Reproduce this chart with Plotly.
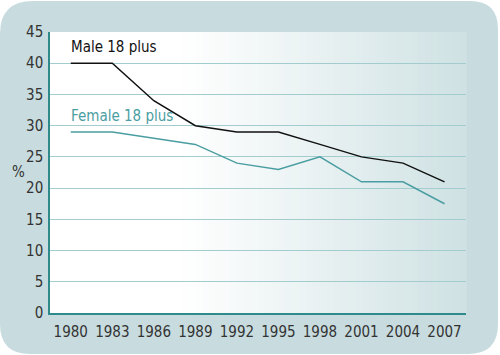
import plotly.graph_objects as go

years = [1980, 1983, 1986, 1989, 1992, 1995, 1998, 2001, 2004, 2007]
male = [40, 40, 34, 30, 29, 29, 27, 25, 24, 21]
female = [29, 29, 28, 27, 24, 23, 25, 21, 21, 17.5]
yticks = [0, 5, 10, 15, 20, 25, 30, 35, 40, 45]

W, H = 500, 355
L, R, T, B = 50, 34, 32, 42
pw, ph = W - L - R, H - T - B

FONT = "Liberation Sans Narrow, DejaVu Sans Condensed, sans-serif"

def px(x):
    return (x - L) / pw

def py(y):
    return (H - B - y) / ph

fig = go.Figure()
fig.add_trace(go.Scatter(x=years, y=male, mode="lines",
                         line=dict(color="#111111", width=1.5), showlegend=False))
fig.add_trace(go.Scatter(x=years, y=female, mode="lines",
                         line=dict(color="#4a9ea1", width=1.5), showlegend=False))

shapes = []
# outer rounded background
x0, x1, y0, y1 = 0, 498, 1, 354
rtl, rtr, rbl, rbr = 33, 28, 30, 30
path = (f"M {px(x0)},{py(y0 + rtl)} Q {px(x0)},{py(y0)} {px(x0 + rtl)},{py(y0)} "
        f"L {px(x1 - rtr)},{py(y0)} Q {px(x1)},{py(y0)} {px(x1)},{py(y0 + rtr)} "
        f"L {px(x1)},{py(y1 - rbr)} Q {px(x1)},{py(y1)} {px(x1 - rbr)},{py(y1)} "
        f"L {px(x0 + rbl)},{py(y1)} Q {px(x0)},{py(y1)} {px(x0)},{py(y1 - rbl)} Z")
shapes.append(dict(type="path", xref="paper", yref="paper", path=path,
                   fillcolor="#c8dcdf", line=dict(width=0), layer="below"))

# plot-area horizontal gradient (white -> light teal)
n = 60
c0 = (255, 255, 255)
c1 = (206, 225, 227)
start = 0.3
for i in range(n):
    a = i / n
    b = (i + 1) / n
    mid = (a + b) / 2
    t = 0 if mid < start else (mid - start) / (1 - start)
    t = t ** 1.1
    col = tuple(round(c0[k] + (c1[k] - c0[k]) * t) for k in range(3))
    shapes.append(dict(type="rect", xref="x domain", yref="y domain",
                       x0=a, x1=b + 0.002, y0=0, y1=1,
                       fillcolor="rgb(%d,%d,%d)" % col, line=dict(width=0), layer="below"))

fig.update_layout(
    width=W, height=H,
    margin=dict(l=L, r=R, t=T, b=B),
    paper_bgcolor="white",
    plot_bgcolor="rgba(0,0,0,0)",
    shapes=shapes,
    font=dict(family=FONT, size=15, color="#333333"),
    xaxis=dict(range=[1978.5, 2008.55], tickvals=years, ticktext=[str(y) for y in years],
               showgrid=False, zeroline=False, showline=True, linecolor="#2f8a8c",
               linewidth=1.5, ticks="", ticklen=0, ticklabelstandoff=4,
               tickfont=dict(size=15, color="#333333")),
    yaxis=dict(range=[0, 45], tickvals=yticks, showgrid=True, gridcolor="#a3cccf",
               gridwidth=1, zeroline=False, showline=True, linecolor="#2f8a8c",
               linewidth=1.5, ticks="", ticklabelstandoff=2,
               tickfont=dict(size=15, color="#333333")),
    annotations=[
        dict(x=1980 - 0.15, y=py(47), xref="x", yref="paper", text="Male 18 plus",
             showarrow=False, xanchor="left", yanchor="middle",
             font=dict(size=15, color="#111111")),
        dict(x=1980 - 0.15, y=py(116), xref="x", yref="paper", text="Female 18 plus",
             showarrow=False, xanchor="left", yanchor="middle",
             font=dict(size=15, color="#4a9ea1")),
        dict(x=px(18), y=py(172), xref="paper", yref="paper", text="%", showarrow=False,
             xanchor="center", yanchor="middle", font=dict(size=15, color="#333333")),
    ],
)

fig.write_html("out.html", config={"displayModeBar": False},
               post_script="document.body.style.margin='0px';")
